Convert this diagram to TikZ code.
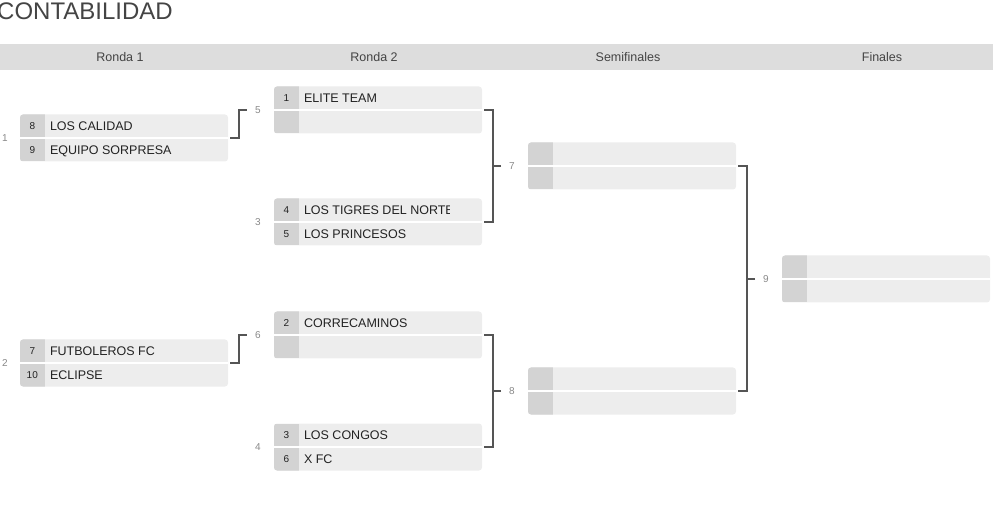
\documentclass[tikz,border=0pt]{standalone}
\usepackage{fontspec}
\setmainfont{Liberation Sans}
\usetikzlibrary{positioning}
\definecolor{boxbg}{HTML}{EDEDED}
\definecolor{seedbg}{HTML}{D3D3D3}
\definecolor{headbg}{HTML}{DDDDDD}
\definecolor{connline}{HTML}{555555}
\definecolor{labgray}{HTML}{888888}
\definecolor{textdark}{HTML}{222222}
\definecolor{titlegray}{HTML}{444444}

\begin{document}
\begin{tikzpicture}[x=1pt, y=-1pt,
  match/.style={rectangle, rounded corners=3pt, fill=boxbg, minimum width=208pt, minimum height=47pt, inner sep=0pt,
    path picture={\fill[seedbg, sharp corners] (path picture bounding box.north west) rectangle ([xshift=25pt]path picture bounding box.south west);
      \draw[white, line width=2pt, sharp corners] (path picture bounding box.west) -- (path picture bounding box.east);}},
  seed/.style={inner sep=0pt, font=\fontsize{10}{12}\selectfont, text=textdark, text height=8pt, text depth=0.8pt},
  team/.style={inner sep=0pt, font=\fontsize{12.5}{15}\selectfont, text=textdark, text height=10pt, text depth=1pt},
  lab/.style={inner sep=0pt, font=\fontsize{10}{12}\selectfont, text=labgray, text height=8pt, text depth=0.8pt},
  head/.style={inner sep=0pt, font=\fontsize{12.5}{15}\selectfont, text=titlegray, text height=10pt, text depth=1pt},
  conn/.style={draw=connline, line width=2pt}]
\useasboundingbox (0,0) rectangle (993,510);

\node[anchor=base west, inner sep=0pt, font=\fontsize{24}{28}\selectfont, text=titlegray] (title) at (-3,19.5) {CONTABILIDAD};
\fill[headbg] (0,44) rectangle (993,70);
\node[head] (h1) at (120,57) {Ronda 1};
\node[head] (h2) at (374,57) {Ronda 2};
\node[head] (h3) at (628,57) {Semifinales};
\node[head] (h4) at (882,57) {Finales};

\node[match] (m1) at (124,138) {};
\node[match] (m2) at (124,363) {};
\node[match] (m5) at (378,110) {};
\node[match] (m3) at (378,222) {};
\node[match] (m6) at (378,335) {};
\node[match] (m4) at (378,447) {};
\node[match] (m7) at (632,166) {};
\node[match] (m8) at (632,391) {};
\node[match] (m9) at (886,279) {};

\node[lab] (l1) at (5,138) {1};
\node[lab] (l2) at (5,363) {2};
\node[lab] (l5) at (258,110) {5};
\node[lab] (l3) at (258,222) {3};
\node[lab] (l6) at (258,335) {6};
\node[lab] (l4) at (258,447) {4};
\node[lab] (l7) at (512,166) {7};
\node[lab] (l8) at (512,391) {8};
\node[lab] (l9) at (766,279) {9};

\node[seed] (s1a) at ([xshift=12.5pt, yshift=11.75pt]m1.west) {8};
\node[team, right=17.5pt of s1a.center] (t1a) {LOS CALIDAD};
\node[seed] (s1b) at ([xshift=12.5pt, yshift=-11.75pt]m1.west) {9};
\node[team, right=17.5pt of s1b.center] (t1b) {EQUIPO SORPRESA};
\node[seed] (s2a) at ([xshift=12.5pt, yshift=11.75pt]m2.west) {7};
\node[team, right=17.5pt of s2a.center] (t2a) {FUTBOLEROS FC};
\node[seed] (s2b) at ([xshift=12.5pt, yshift=-11.75pt]m2.west) {10};
\node[team, right=17.5pt of s2b.center] (t2b) {ECLIPSE};

\node[seed] (s5a) at ([xshift=12.5pt, yshift=11.75pt]m5.west) {1};
\node[team, right=17.5pt of s5a.center] (t5a) {ELITE TEAM};
\node[seed] (s3a) at ([xshift=12.5pt, yshift=11.75pt]m3.west) {4};
\begin{scope}
\clip (m3.north west) rectangle ([xshift=-32.5pt]m3.south east);
\node[team, right=17.5pt of s3a.center] (t3a) {LOS TIGRES DEL NORTE};
\end{scope}
\node[seed] (s3b) at ([xshift=12.5pt, yshift=-11.75pt]m3.west) {5};
\node[team, right=17.5pt of s3b.center] (t3b) {LOS PRINCESOS};
\node[seed] (s6a) at ([xshift=12.5pt, yshift=11.75pt]m6.west) {2};
\node[team, right=17.5pt of s6a.center] (t6a) {CORRECAMINOS};
\node[seed] (s4a) at ([xshift=12.5pt, yshift=11.75pt]m4.west) {3};
\node[team, right=17.5pt of s4a.center] (t4a) {LOS CONGOS};
\node[seed] (s4b) at ([xshift=12.5pt, yshift=-11.75pt]m4.west) {6};
\node[team, right=17.5pt of s4b.center] (t4b) {X FC};

\draw[conn] ([xshift=2pt]m1.east) -- ++(9,0) |- ([xshift=-8pt]l5.west);
\draw[conn] ([xshift=2pt]m2.east) -- ++(9,0) |- ([xshift=-8pt]l6.west);
\draw[conn] ([xshift=2pt]m5.east) -- ++(9,0) |- ([xshift=2pt]m3.east);
\draw[conn] ([xshift=-8pt]l7.west) -- ++(-8,0);
\draw[conn] ([xshift=2pt]m6.east) -- ++(9,0) |- ([xshift=2pt]m4.east);
\draw[conn] ([xshift=-8pt]l8.west) -- ++(-8,0);
\draw[conn] ([xshift=2pt]m7.east) -- ++(9,0) |- ([xshift=2pt]m8.east);
\draw[conn] ([xshift=-8pt]l9.west) -- ++(-8,0);
\end{tikzpicture}
\end{document}
